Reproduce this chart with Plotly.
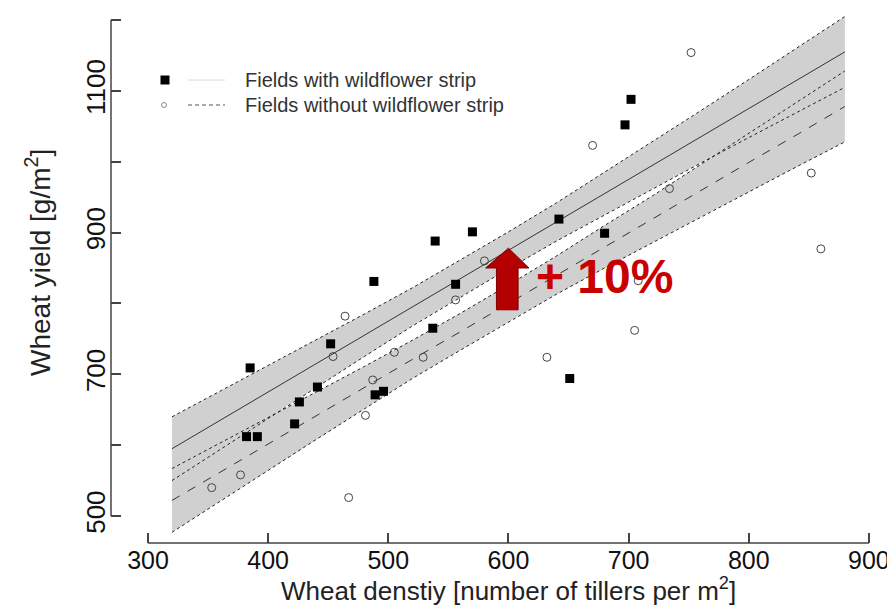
import plotly.graph_objects as go

# ---------------- data ----------------
with_x = [702, 697, 642, 570, 680, 539, 488, 556, 537, 452, 385, 441, 426, 496, 489, 422, 382, 391, 651]
with_y = [1088, 1052, 919, 901, 899, 888, 831, 827, 765, 743, 709, 682, 661, 676, 671, 630, 612, 612, 694]

without_x = [752, 670, 852, 734, 860, 580, 708, 556, 464, 705, 454, 505, 529, 632, 487, 481, 377, 353, 467]
without_y = [1154, 1023, 984, 962, 877, 860, 832, 805, 782, 762, 725, 731, 724, 724, 692, 642, 558, 540, 526]

fit_x = [320, 360, 400, 440, 480, 520, 560, 600, 640, 680, 720, 760, 800, 840, 880]
with_fit = [595, 635, 675, 715, 755, 795, 835, 875, 915, 955, 995, 1035, 1075, 1115, 1155]
with_lo = [550, 594, 638, 682, 725, 768, 809, 849, 888, 925, 962, 998, 1034, 1070, 1105]
with_hi = [640, 676, 712, 748, 785, 822, 861, 901, 942, 985, 1028, 1072, 1116, 1160, 1205]
without_fit = [522, 562, 601, 641, 681, 721, 760, 800, 840, 880, 919, 959, 999, 1038, 1078]
without_lo = [477, 521, 564, 608, 651, 694, 734, 774, 813, 850, 886, 922, 958, 993, 1028]
without_hi = [567, 603, 638, 674, 711, 748, 786, 826, 867, 910, 952, 996, 1040, 1083, 1128]

x_ticks = [300, 400, 500, 600, 700, 800, 900]
y_ticks = [500, 600, 700, 800, 900, 1000, 1100, 1200]
y_ticktext = ["500", " ", "700", " ", "900", " ", "1100", " "]

legend_labels = ["Fields with wildflower strip", "Fields without wildflower strip"]
x_title = "Wheat denstiy [number of tillers per m<sup>2</sup>]"
y_title = "Wheat yield [g/m<sup>2</sup>]"
effect_label = "+ 10%"

# ---------------- layout geometry ----------------
W, H = 895, 607
ML, MR, MT, MB = 103, 5, 0, 72
PW, PH = W - ML - MR, H - MT - MB


def px(xp):
    return (xp - ML) / PW


def py(yp):
    return (H - MB - yp) / PH


FONT = "Liberation Sans, Arial, sans-serif"
BAND = "#d0d0d0"

fig = go.Figure()

# confidence bands
for xs, lo, hi in [(fit_x, with_lo, with_hi), (fit_x, without_lo, without_hi)]:
    fig.add_trace(go.Scatter(x=xs + xs[::-1], y=hi + lo[::-1], fill="toself",
                             fillcolor=BAND, line=dict(width=0), mode="lines",
                             hoverinfo="skip"))
# band edges
for ys in [with_lo, with_hi, without_lo, without_hi]:
    fig.add_trace(go.Scatter(x=fit_x, y=ys, mode="lines",
                             line=dict(color="#222", width=1, dash="dot")))
# fitted lines
fig.add_trace(go.Scatter(x=fit_x, y=with_fit, mode="lines",
                         line=dict(color="#333", width=1)))
fig.add_trace(go.Scatter(x=fit_x, y=without_fit, mode="lines",
                         line=dict(color="#333", width=1, dash="dash")))

# points
fig.add_trace(go.Scatter(x=without_x, y=without_y, mode="markers",
                         marker=dict(symbol="circle-open", size=8, color="#444",
                                     line=dict(width=1))))
fig.add_trace(go.Scatter(x=with_x, y=with_y, mode="markers",
                         marker=dict(symbol="square", size=9, color="black")))

shapes = []
# detached R-style axis lines
shapes.append(dict(type="line", xref="x", yref="paper", x0=x_ticks[0], x1=x_ticks[-1],
                   y0=0, y1=0, line=dict(color="#444", width=1.5)))
shapes.append(dict(type="line", xref="paper", yref="y", x0=0, x1=0,
                   y0=y_ticks[0], y1=y_ticks[-1], line=dict(color="#444", width=1.5)))

# red block arrow (+10%)
arrow = "M 590 791 L 608 791 L 608 850 L 617 850 L 600 878 L 581 850 L 590 850 Z"
shapes.append(dict(type="path", xref="x", yref="y", path=arrow,
                   fillcolor="#b40000", line=dict(color="#7a0000", width=1), layer="above"))

# legend keys
shapes.append(dict(type="rect", xref="paper", yref="paper",
                   x0=px(152.5), x1=px(161.5), y0=py(76.5), y1=py(67.5),
                   fillcolor="black", line=dict(width=0)))
shapes.append(dict(type="line", xref="paper", yref="paper",
                   x0=px(180), x1=px(217), y0=py(72), y1=py(72),
                   line=dict(color="#d8d8d8", width=1)))
shapes.append(dict(type="circle", xref="paper", yref="paper",
                   x0=px(153.5), x1=px(158.5), y0=py(99.5), y1=py(94.5),
                   line=dict(color="#888", width=1)))
shapes.append(dict(type="line", xref="paper", yref="paper",
                   x0=px(180), x1=px(217), y0=py(97), y1=py(97),
                   line=dict(color="#555", width=1, dash="4px,3px")))

annotations = [
    dict(text=legend_labels[0], xref="paper", yref="paper", x=px(235), y=py(72),
         xanchor="left", yanchor="middle", showarrow=False,
         font=dict(family=FONT, size=20, color="#333")),
    dict(text=legend_labels[1], xref="paper", yref="paper", x=px(235), y=py(97),
         xanchor="left", yanchor="middle", showarrow=False,
         font=dict(family=FONT, size=20, color="#333")),
    dict(text=x_title, xref="paper", yref="paper", x=px(500), y=py(600),
         xanchor="center", yanchor="bottom", showarrow=False,
         font=dict(family=FONT, size=26, color="#222")),
    dict(text=y_title, xref="paper", yref="paper", x=px(30), y=py(255),
         xanchor="center", yanchor="middle", showarrow=False, textangle=-90,
         font=dict(family=FONT, size=28, color="#222")),
    dict(text="<b>" + effect_label + "</b>", xref="paper", yref="paper", x=px(596), y=py(268),
         xanchor="center", yanchor="middle", showarrow=False,
         font=dict(family=FONT, size=48, color="#c80000")),
]

fig.update_layout(
    width=W, height=H,
    margin=dict(l=ML, r=MR, t=MT, b=MB, pad=0),
    plot_bgcolor="white", paper_bgcolor="white",
    showlegend=False,
    shapes=shapes, annotations=annotations,
    xaxis=dict(range=[269.2, 924.2], tickvals=x_ticks, ticks="inside", ticklen=10,
               tickwidth=1.5, tickcolor="#444", showgrid=False, zeroline=False,
               showline=False, tickfont=dict(family=FONT, size=25, color="#111"),
               fixedrange=True),
    yaxis=dict(range=[461.9, 1216.9], tickvals=y_ticks, ticktext=y_ticktext,
               tickangle=-90, ticks="inside", ticklen=10, tickwidth=1.5,
               tickcolor="#444", showgrid=False, zeroline=False, showline=False,
               tickfont=dict(family=FONT, size=26, color="#111"), fixedrange=True),
)

fig.write_html("out.html")
